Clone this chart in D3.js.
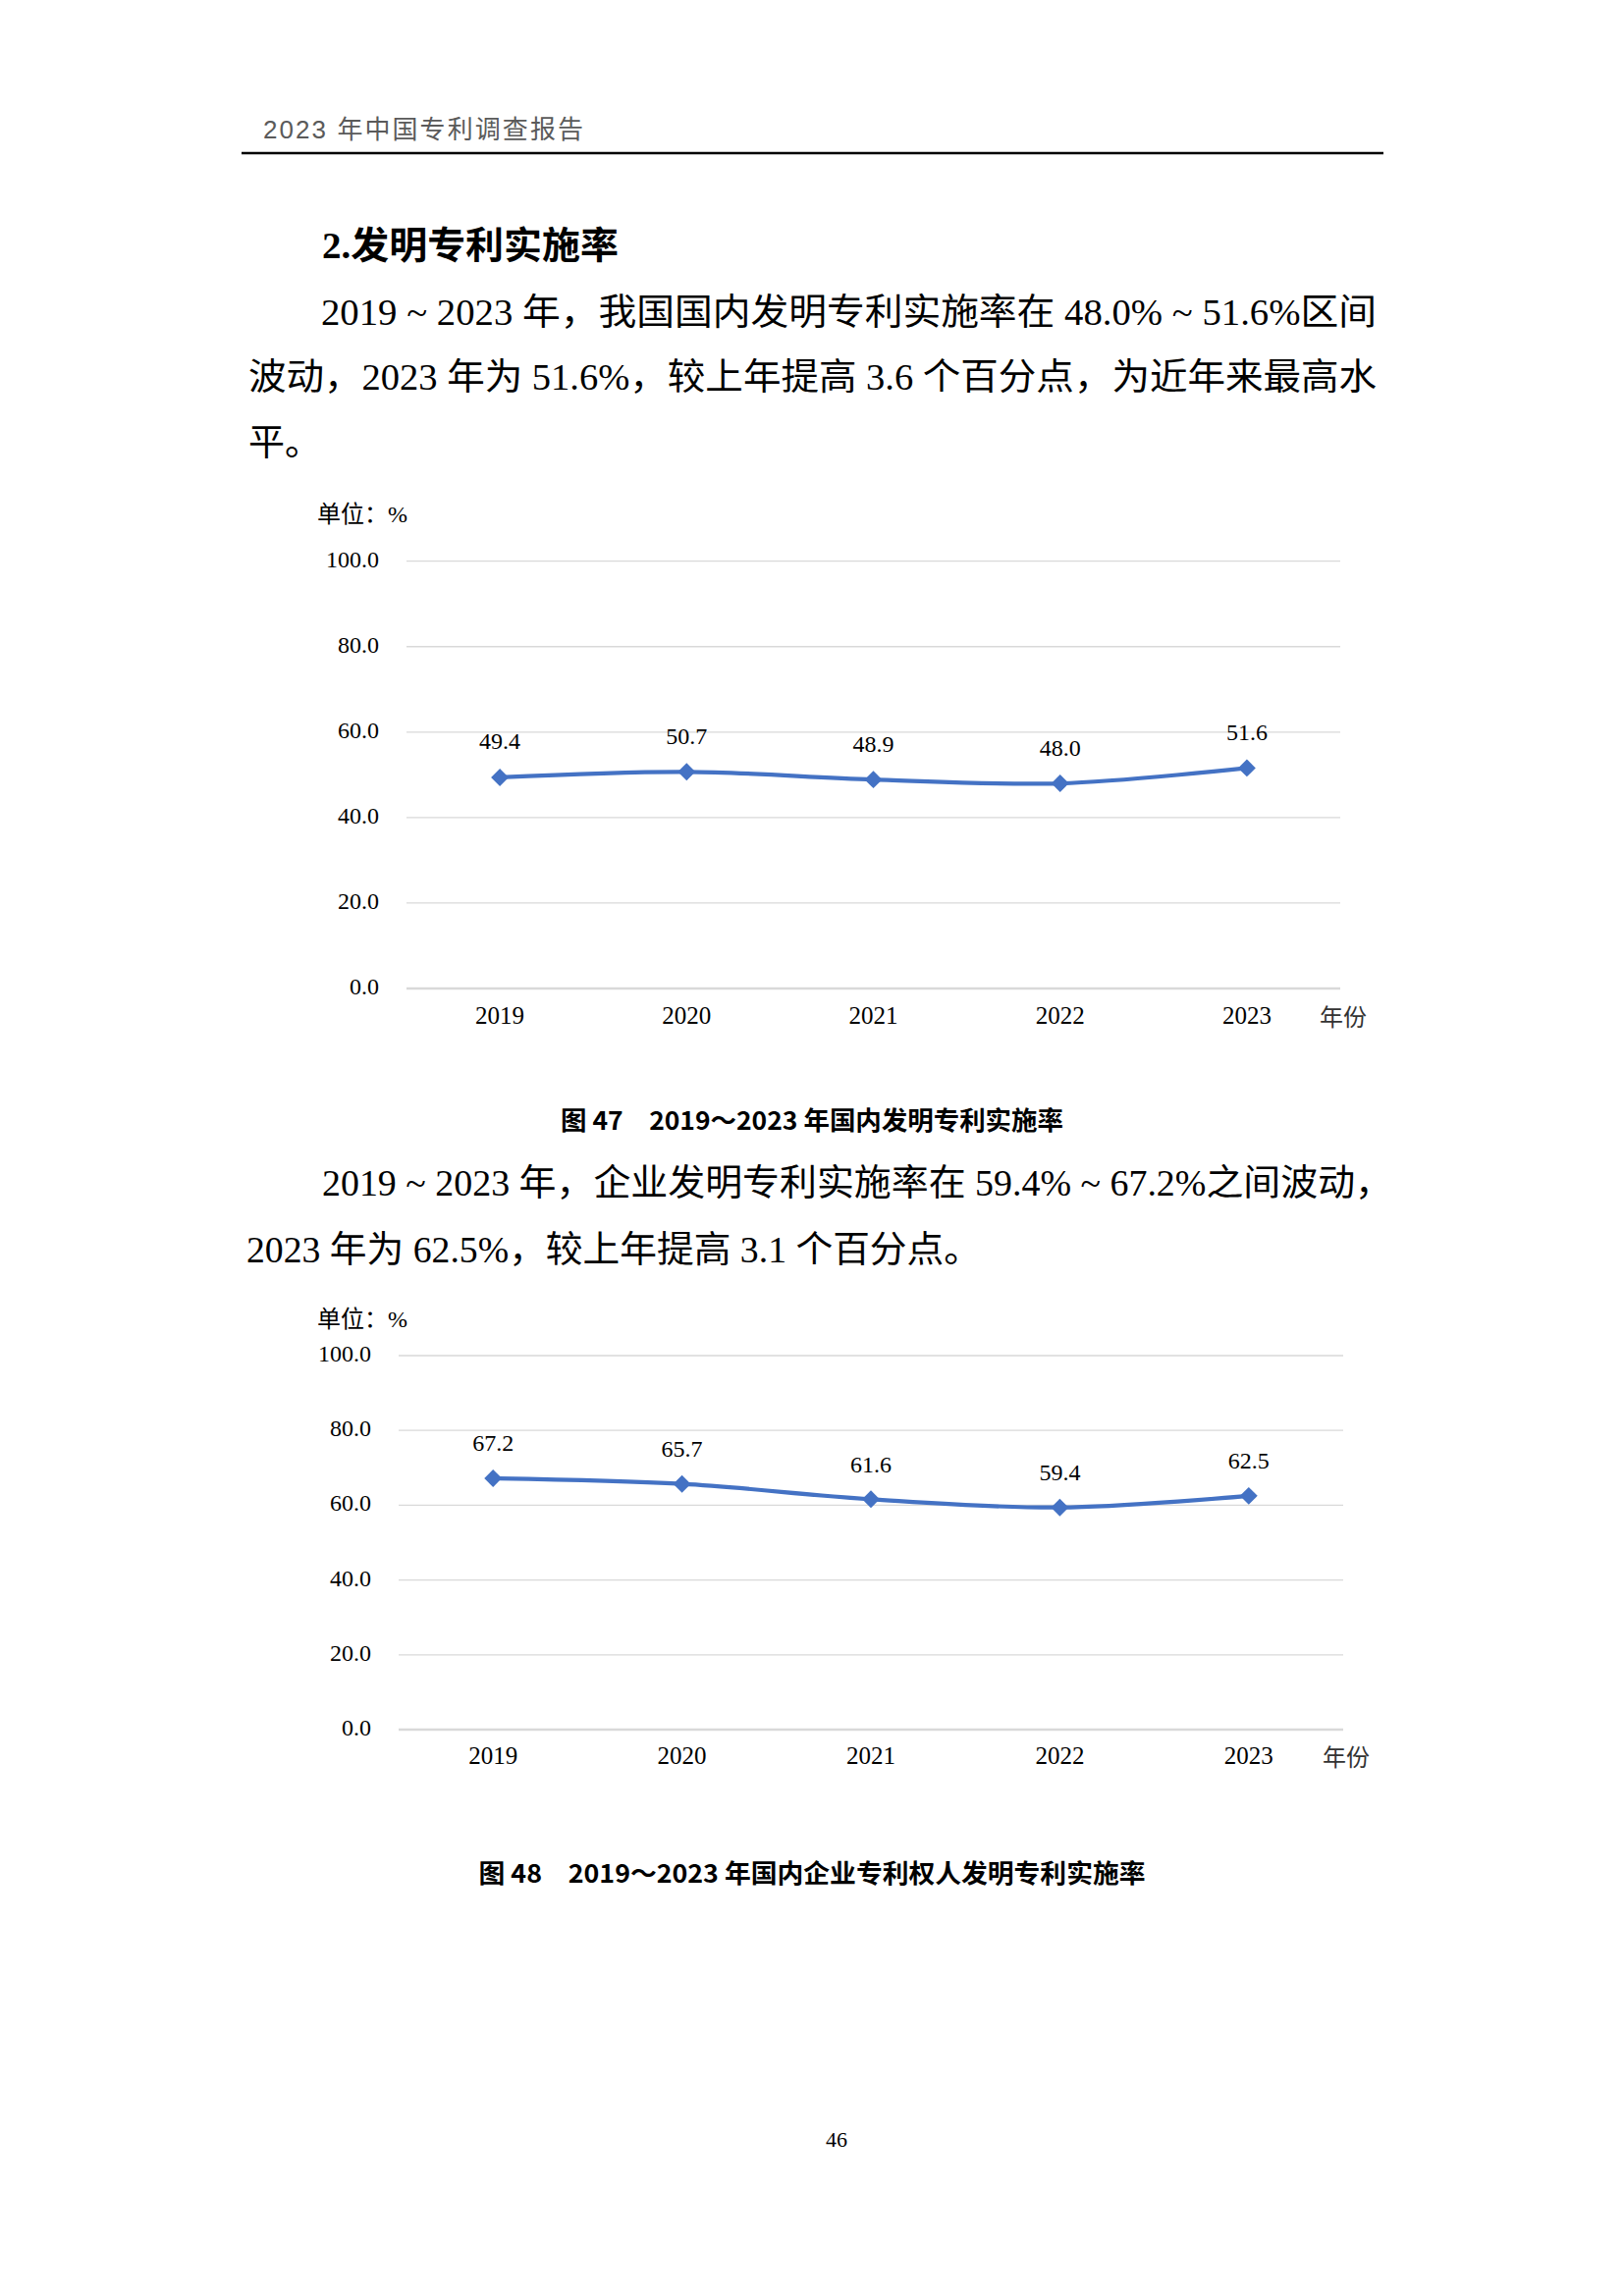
<!DOCTYPE html>
<html>
<head>
<meta charset="utf-8">
<script src="https://cdn.jsdelivr.net/npm/d3@7"></script>
<style>
  body { margin: 0; background: #fff; }
  svg { display: block; }
</style>
</head>
<body>
<svg id="page" width="1654" height="2339"></svg>
<script>
// values
var years = ["2019", "2020", "2021", "2022", "2023"];
var rateDomestic = [49.4, 50.7, 48.9, 48.0, 51.6];
var rateEnterprise = [67.2, 65.7, 61.6, 59.4, 62.5];
var yTicks = [0, 20, 40, 60, 80, 100];

var serif = "'Liberation Serif', 'Noto Sans CJK SC', serif";
var hei = "'Noto Sans CJK SC', sans-serif";
var blue = "#4472C4";

var svg = d3.select("#page");
svg.append("rect").attr("width", 1654).attr("height", 2339).attr("fill", "#fff");

// running header
svg.append("text")
    .attr("x", 268).attr("y", 134)
    .attr("dominant-baseline", "middle")
    .attr("font-family", "'Liberation Sans', 'Noto Sans CJK SC', sans-serif").attr("font-size", 26)
    .attr("fill", "#5a5a5a")
    .attr("textLength", 326).attr("lengthAdjust", "spacing")
    .text("2023 年中国专利调查报告");
svg.append("line")
    .attr("x1", 246).attr("x2", 1409).attr("y1", 156).attr("y2", 156)
    .attr("stroke", "#000").attr("stroke-width", 2.6);

// section heading
svg.append("text")
    .attr("x", 328).attr("y", 254)
    .attr("dominant-baseline", "middle")
    .attr("font-family", serif).attr("font-size", 38).attr("font-weight", "bold")
    .attr("textLength", 302).attr("lengthAdjust", "spacingAndGlyphs")
    .text("2.发明专利实施率");

// body lines: [text, x, y, width]
var bodyLines = [
    ["2019 ~ 2023 年，我国国内发明专利实施率在 48.0% ~ 51.6%区间", 327, 323, 1075],
    ["波动，2023 年为 51.6%，较上年提高 3.6 个百分点，为近年来最高水", 253, 389, 1149],
    ["平。", 253, 456, 0],
    ["2019 ~ 2023 年，企业发明专利实施率在 59.4% ~ 67.2%之间波动，", 328, 1210, 1090],
    ["2023 年为 62.5%，较上年提高 3.1 个百分点。", 251, 1278, 748]
];
bodyLines.forEach(function(l) {
    var t = svg.append("text")
        .attr("x", l[1]).attr("y", l[2])
        .attr("dominant-baseline", "middle")
        .attr("font-family", serif).attr("font-size", 37)
        .attr("fill", "#000")
        .text(l[0]);
    if (l[3]) t.attr("textLength", l[3]).attr("lengthAdjust", "spacingAndGlyphs");
});

function drawChart(values, opt) {
    var x = d3.scaleBand().domain(years).range([opt.left, opt.right]);
    var y = d3.scaleLinear().domain([0, 100]).range([opt.bottom, opt.top]);
    var g = svg.append("g");

    // gridlines
    g.selectAll("line.grid").data(yTicks).enter().append("line")
        .attr("x1", opt.left).attr("x2", opt.right)
        .attr("y1", function(d) { return y(d); })
        .attr("y2", function(d) { return y(d); })
        .attr("stroke", "#d9d9d9")
        .attr("stroke-width", function(d) { return d === 0 ? 2.6 : 1.3; });

    // y tick labels
    var yAxis = d3.axisLeft(y).tickValues(yTicks).tickFormat(d3.format(".1f")).tickSize(0).tickPadding(0);
    var ya = g.append("g").attr("transform", "translate(" + opt.labelRight + ",0)").call(yAxis);
    ya.select(".domain").remove();
    ya.selectAll("text").attr("dy", null).attr("dominant-baseline", "middle")
        .attr("font-family", serif).attr("font-size", 24).attr("fill", "#000");

    // x tick labels
    var xAxis = d3.axisBottom(x).tickSize(0).tickPadding(0);
    var xa = g.append("g").attr("transform", "translate(0," + opt.xLabelY + ")").call(xAxis);
    xa.select(".domain").remove();
    xa.selectAll("text").attr("dy", null).attr("dominant-baseline", "middle")
        .attr("font-family", serif).attr("font-size", 25).attr("fill", "#000");

    g.append("text")
        .attr("x", opt.unitX).attr("y", opt.unitY)
        .attr("dominant-baseline", "middle")
        .attr("font-family", serif).attr("font-size", 24)
        .text("单位：%");
    g.append("text")
        .attr("x", opt.right + 3).attr("y", opt.xLabelY + 2)
        .attr("text-anchor", "middle").attr("dominant-baseline", "middle")
        .attr("font-family", serif).attr("font-size", 24).attr("fill", "#333")
        .text("年份");

    var cx = function(d, i) { return x(years[i]) + x.bandwidth() / 2; };
    var line = d3.line().x(cx).y(function(d) { return y(d); })
        .curve(d3.curveCatmullRom.alpha(0.5));
    g.append("path").datum(values)
        .attr("d", line).attr("fill", "none")
        .attr("stroke", blue).attr("stroke-width", 4.2)
        .attr("stroke-linejoin", "round");

    var diamond = d3.symbol().type(d3.symbolSquare).size(160);
    g.selectAll("path.pt").data(values).enter().append("path")
        .attr("d", diamond)
        .attr("transform", function(d, i) { return "translate(" + cx(d, i) + "," + y(d) + ") rotate(45)"; })
        .attr("fill", blue);

    g.selectAll("text.val").data(values).enter().append("text")
        .attr("x", cx).attr("y", function(d) { return y(d) - opt.labelGap; })
        .attr("text-anchor", "middle").attr("dominant-baseline", "middle")
        .attr("font-family", serif).attr("font-size", 24)
        .text(function(d) { return d.toFixed(1); });

    svg.append("text")
        .attr("x", 827).attr("y", opt.captionY)
        .attr("text-anchor", "middle").attr("dominant-baseline", "middle")
        .attr("font-family", hei).attr("font-size", 26).attr("font-weight", "bold")
        .attr("textLength", opt.captionW).attr("lengthAdjust", "spacingAndGlyphs")
        .text(opt.caption);
}

drawChart(rateDomestic, {
    left: 414, right: 1365, top: 571.7, bottom: 1007,
    labelRight: 386, xLabelY: 1037, unitX: 323, unitY: 526,
    labelGap: 34, captionY: 1144, captionW: 512,
    caption: "图 47　2019～2023 年国内发明专利实施率"
});

drawChart(rateEnterprise, {
    left: 406, right: 1368, top: 1381, bottom: 1762,
    labelRight: 378, xLabelY: 1791, unitX: 323, unitY: 1346,
    labelGap: 33, captionY: 1911, captionW: 679,
    caption: "图 48　2019～2023 年国内企业专利权人发明专利实施率"
});

// page number
svg.append("text")
    .attr("x", 852).attr("y", 2182)
    .attr("text-anchor", "middle").attr("dominant-baseline", "middle")
    .attr("font-family", serif).attr("font-size", 22)
    .text("46");
</script>
</body>
</html>
